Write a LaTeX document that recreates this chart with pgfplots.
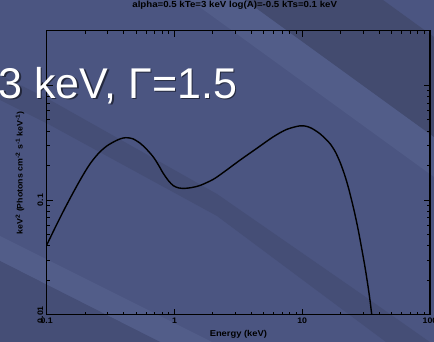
\documentclass[border=0pt]{standalone}
\usepackage{pgfplots}
\pgfplotsset{compat=1.18}
\usepackage{fontspec}
\setmainfont{Liberation Sans}
\newfontfamily\lbl[FakeStretch=1.1]{Liberation Sans Bold}
\definecolor{bgbase}{HTML}{4B5581}
\definecolor{bglight}{HTML}{525D89}
\definecolor{bgdark}{HTML}{434B6F}
\definecolor{bgdark2}{HTML}{454E76}
\begin{document}
\begin{tikzpicture}
\begin{scope}[shift={(0,342pt)}, yscale=-1, x=1pt, y=1pt]
\fill[bgbase] (0,0) rectangle (434,342);
\fill[bglight] (190,0) -- (245,0) -- (434,137) -- (434,177) -- cycle;
\fill[bgdark] (245,0) -- (383,0) -- (434,37) -- (434,137) -- cycle;
\fill[bgdark2] (0,75) -- (50,100) -- (217,194) -- (370,300) -- (434,345) -- (390,345) -- (217,216) -- (50,125) -- (0,100) -- cycle;
\fill[bglight] (0,236) -- (212,342) -- (160,342) -- (0,261) -- cycle;
\fill[bgdark2] (0,261) -- (160,342) -- (0,342) -- cycle;
\end{scope}
\begin{axis}[
  at={(46.7pt,27.3pt)}, anchor=south west, scale only axis,
  width=383.3pt, height=284pt,
  xmode=log, ymode=log,
  xmin=0.1, xmax=100, ymin=0.01, ymax=3,
  xtick={0.1,1,10,100}, xticklabels={0.1,1,10,100},
  ytick={0.01,0.1,1}, yticklabels={0.01,0.1,1},
  xtick pos=both, ytick pos=both,
  tick align=inside,
  major tick length=6pt, minor tick length=3pt,
  every tick/.style={black, line width=0.9pt},
  axis line style={black, line width=1.3pt},
  tick label style={font=\lbl\fontsize{8}{8}\selectfont},
  y tick label style={rotate=90, anchor=south},
  xlabel={Energy (keV)},
  ylabel={keV\textsuperscript{2} (Photons cm\textsuperscript{-2} s\textsuperscript{-1} keV\textsuperscript{-1})},
  label style={font=\lbl\fontsize{8.5}{8.5}\selectfont},
  ylabel style={font=\lbl\fontsize{8}{8}\selectfont},
  xlabel style={at={(axis description cs:0.5,-0.069)}, anchor=center},
  ylabel style={at={(axis description cs:-0.0697,0.5)}, anchor=center},
  title={alpha=0.5 kTe=3 keV log(A)=-0.5 kTs=0.1 keV},
  title style={font=\lbl\fontsize{8.8}{8.8}\selectfont, at={(axis description cs:0.4905,1.069)}, anchor=center},
]
\addplot[black, line width=1.4pt, smooth] coordinates {
(0.1,0.0405) (0.1197,0.0612) (0.139,0.0851) (0.1615,0.1166) (0.188,0.158)
(0.218,0.2063) (0.254,0.255) (0.294,0.295) (0.342,0.326) (0.38,0.343)
(0.417,0.350) (0.47,0.343) (0.535,0.315) (0.60,0.280) (0.682,0.238)
(0.75,0.202) (0.817,0.171) (0.90,0.147) (0.98,0.1335) (1.08,0.1275)
(1.208,0.1265) (1.36,0.1285) (1.585,0.134) (2.0,0.151) (2.41,0.174)
(3.26,0.223) (4.40,0.282) (5.93,0.356) (7.55,0.413) (9.6,0.444)
(11.0,0.437) (12.2,0.415) (13.8,0.378) (15.2,0.342) (16.6,0.308)
(18.2,0.262) (19.8,0.213) (21.5,0.165) (23.0,0.128) (24.5,0.097)
(26.0,0.073) (27.6,0.053) (29.3,0.037) (31.0,0.026) (32.6,0.0182)
(33.9,0.0134) (35.0,0.0100)
};
\end{axis}
\node[anchor=base west, text=black, opacity=0.5, font=\fontsize{43}{43}\selectfont] at (-3.5pt,242.2pt) {3 keV, Γ=1.5};
\node[anchor=base west, text=white, font=\fontsize{43}{43}\selectfont] at (-5pt,243.7pt) {3 keV, Γ=1.5};
\pgfresetboundingbox
\useasboundingbox (0,0) rectangle (434pt,342pt);
\end{tikzpicture}
\end{document}
